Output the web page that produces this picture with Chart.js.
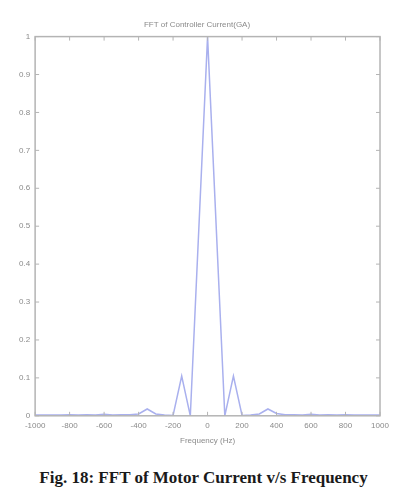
<!DOCTYPE html>
<html>
<head>
<meta charset="utf-8">
<script src="https://cdn.jsdelivr.net/npm/chart.js@4/dist/chart.umd.min.js"></script>
<style>
  html, body { margin: 0; padding: 0; background: #fff; }
  #wrap { position: relative; width: 407px; height: 450px; }
  #caption { font-family: "Liberation Serif", serif; font-weight: bold; font-size: 17px; color: #1a1a1a; text-align: center; margin-top: 18px; letter-spacing: 0; }
</style>
</head>
<body>
<div id="wrap"><canvas id="c"></canvas></div>
<div id="caption">Fig. 18: FFT of Motor Current v/s Frequency</div>
<script>
// FFT magnitude
const freqHz = [-1000, -950, -900, -850, -800, -750, -700, -650, -600, -550, -500, -450, -400, -350, -300, -250, -200, -150, -100,
    0, 100, 150, 200, 250, 300, 350, 400, 450, 500, 550, 600, 650, 700, 750, 800, 850, 900, 950, 1000];
const magnitude = [0.002, 0.002, 0.002, 0.002, 0.003, 0.002, 0.003, 0.002, 0.004, 0.002, 0.003, 0.003, 0.005, 0.018, 0.005, 0.002, 0.001, 0.105, 0.0,
    1.0, 0.0, 0.105, 0.001, 0.002, 0.005, 0.018, 0.006, 0.003, 0.003, 0.002, 0.004, 0.002, 0.003, 0.002, 0.003, 0.002, 0.002, 0.002, 0.002];
const xTicks = [-1000, -800, -600, -400, -200, 0, 200, 400, 600, 800, 1000];

const axisGrey = '#b4b4b4';
const textGrey = '#8a8a8a';

// MATLAB-style box with inward ticks
const boxPlugin = {
    id: 'box',
    afterDraw(chart) {
        const { ctx, chartArea: a, scales: { x, y } } = chart;
        ctx.save();
        ctx.strokeStyle = axisGrey;
        ctx.lineWidth = 1.5;
        ctx.strokeRect(a.left, a.top, a.right - a.left, a.bottom - a.top);
        ctx.lineWidth = 1;
        const t = 4;
        xTicks.forEach(v => {
            const px = x.getPixelForValue(v);
            ctx.beginPath();
            ctx.moveTo(px, a.bottom); ctx.lineTo(px, a.bottom - t);
            ctx.moveTo(px, a.top); ctx.lineTo(px, a.top + t);
            ctx.stroke();
        });
        y.ticks.forEach(tk => {
            const py = y.getPixelForValue(tk.value);
            ctx.beginPath();
            ctx.moveTo(a.left, py); ctx.lineTo(a.left + t, py);
            ctx.moveTo(a.right, py); ctx.lineTo(a.right - t, py);
            ctx.stroke();
        });
        ctx.restore();
    }
};

new Chart(document.getElementById('c'), {
    type: 'line',
    data: {
        datasets: [{
            data: freqHz.map((f, i) => ({ x: f, y: magnitude[i] })),
            borderColor: '#a9b0ee',
            borderWidth: 1.5,
            pointRadius: 0,
            tension: 0,
            fill: false
        }]
    },
    options: {
        responsive: true,
        maintainAspectRatio: false,
        animation: false,
        layout: { padding: { left: 14, right: 27, top: 6, bottom: 0 } },
        plugins: {
            legend: { display: false },
            tooltip: { enabled: false },
            title: {
                display: true,
                text: 'FFT of Controller Current(GA)',
                color: textGrey,
                font: { family: 'Liberation Sans', size: 8, weight: 'normal' },
                padding: { top: 14, bottom: 7 }
            }
        },
        scales: {
            x: {
                type: 'linear',
                min: -1000, max: 1000,
                afterBuildTicks: s => { s.ticks = xTicks.map(v => ({ value: v })); },
                grid: { display: false, drawTicks: false },
                border: { display: false },
                ticks: { color: textGrey, font: { family: 'Liberation Sans', size: 8 }, padding: 5, maxRotation: 0,
                    callback: v => String(v) },
                title: { display: true, text: 'Frequency (Hz)', color: textGrey, font: { family: 'Liberation Sans', size: 8 }, padding: { top: 1 } }
            },
            y: {
                min: 0, max: 1,
                ticks: { stepSize: 0.1, color: textGrey, font: { family: 'Liberation Sans', size: 8 }, padding: 5,
                    callback: v => String(Math.round(v * 10) / 10) },
                grid: { display: false, drawTicks: false },
                border: { display: false }
            }
        }
    },
    plugins: [boxPlugin]
});
</script>
</body>
</html>
